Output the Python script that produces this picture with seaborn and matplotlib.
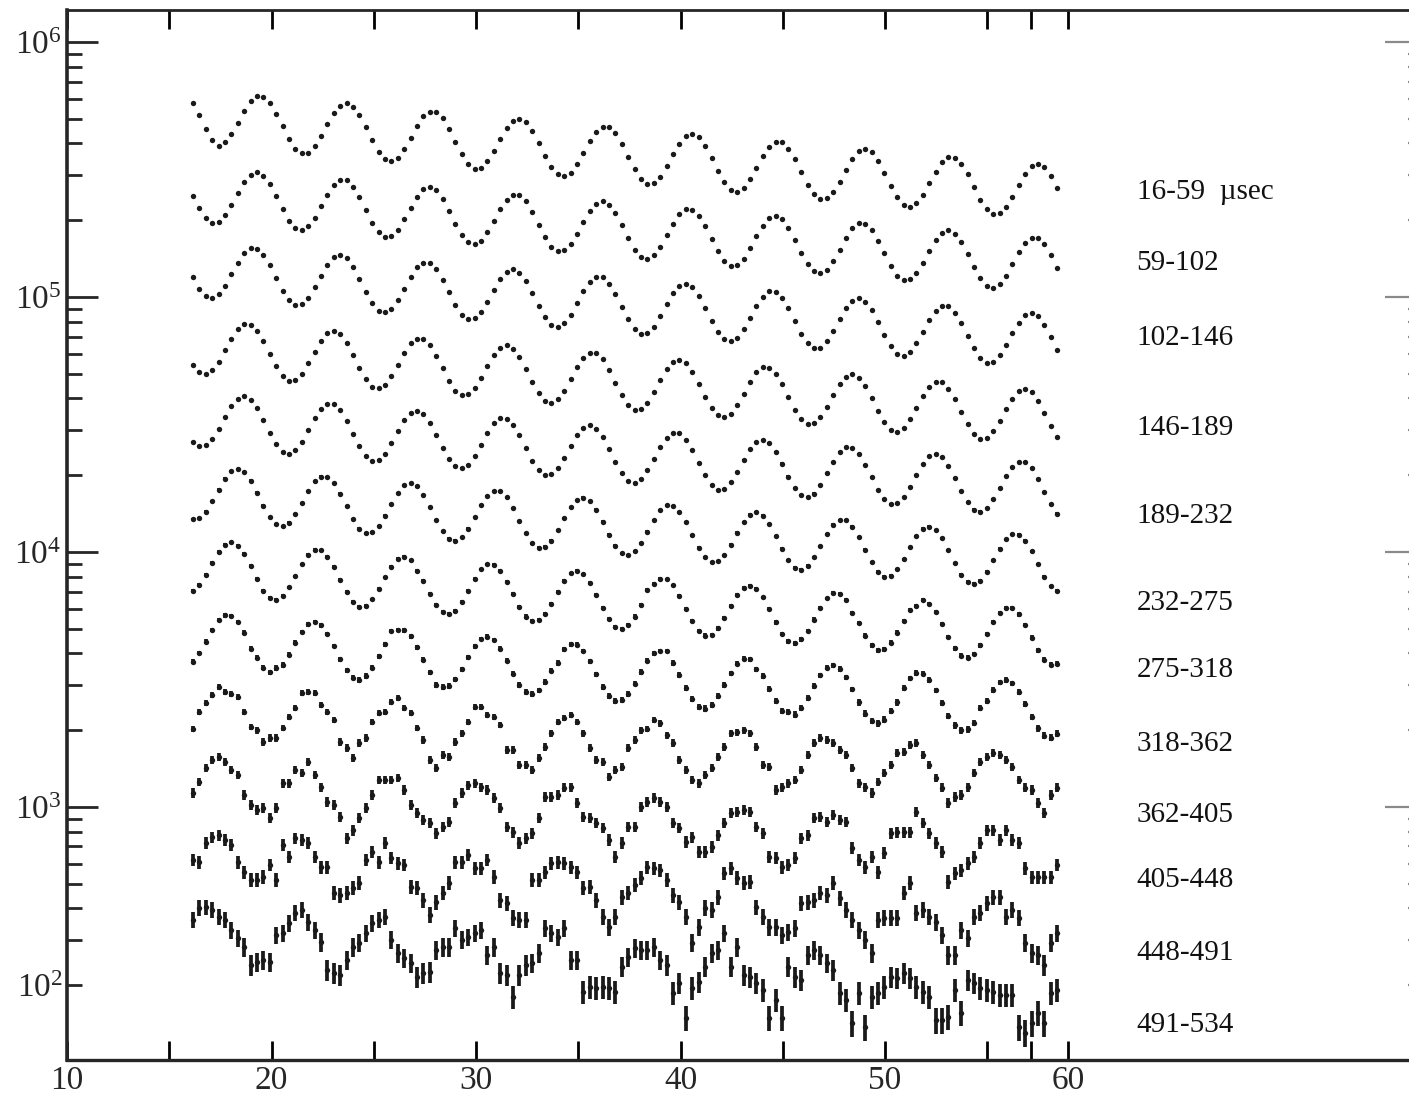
import numpy as np
import pandas as pd
import matplotlib
matplotlib.use('Agg')
import matplotlib.pyplot as plt
import matplotlib.transforms as mtransforms
from matplotlib.ticker import LogLocator, NullFormatter
import seaborn as sns

# time channels along the x axis
time = np.linspace(16.16, 58.42, 136)

# log10(counts) per channel for each delay window
log_16_59 = [
    5.762, 5.714, 5.658, 5.616, 5.591, 5.606, 5.639, 5.684, 5.730, 5.767, 5.787, 5.784, 5.760, 5.719,
    5.669, 5.620, 5.582, 5.563, 5.566, 5.591, 5.631, 5.678, 5.720, 5.750, 5.759, 5.745, 5.712,
    5.665, 5.614, 5.569, 5.540, 5.532, 5.547, 5.580, 5.625, 5.671, 5.708, 5.727, 5.725, 5.701, 5.660,
    5.609, 5.560, 5.522, 5.503, 5.507, 5.532, 5.572, 5.618, 5.661, 5.690, 5.699, 5.686, 5.652,
    5.605, 5.554, 5.510, 5.481, 5.473, 5.487, 5.521, 5.565, 5.611, 5.648, 5.668, 5.666, 5.642, 5.600,
    5.550, 5.501, 5.463, 5.444, 5.448, 5.472, 5.512, 5.559, 5.602, 5.631, 5.640, 5.626, 5.593,
    5.546, 5.495, 5.450, 5.421, 5.413, 5.428, 5.461, 5.506, 5.552, 5.589, 5.608, 5.606, 5.582, 5.541,
    5.490, 5.441, 5.404, 5.385, 5.388, 5.413, 5.453, 5.500, 5.542, 5.571, 5.581, 5.567, 5.533,
    5.486, 5.435, 5.391, 5.362, 5.354, 5.368, 5.402, 5.446, 5.492, 5.529, 5.549, 5.547, 5.523, 5.481,
    5.431, 5.382, 5.344, 5.325, 5.329, 5.353, 5.394, 5.440, 5.483, 5.512, 5.521, 5.508, 5.474,
    5.427]
log_59_102 = [
    5.398, 5.349, 5.311, 5.292, 5.296, 5.321, 5.361, 5.408, 5.450, 5.480, 5.489, 5.476, 5.442, 5.395,
    5.344, 5.300, 5.271, 5.263, 5.278, 5.311, 5.356, 5.402, 5.439, 5.459, 5.457, 5.433, 5.391,
    5.341, 5.292, 5.254, 5.236, 5.239, 5.264, 5.304, 5.351, 5.394, 5.423, 5.432, 5.419, 5.385, 5.338,
    5.287, 5.243, 5.214, 5.206, 5.221, 5.254, 5.299, 5.345, 5.382, 5.402, 5.400, 5.376, 5.335,
    5.284, 5.235, 5.198, 5.179, 5.183, 5.207, 5.248, 5.294, 5.337, 5.366, 5.376, 5.362, 5.329, 5.282,
    5.231, 5.186, 5.157, 5.150, 5.164, 5.198, 5.242, 5.288, 5.326, 5.345, 5.343, 5.319, 5.278,
    5.228, 5.179, 5.141, 5.122, 5.126, 5.151, 5.191, 5.238, 5.280, 5.310, 5.319, 5.305, 5.272, 5.225,
    5.174, 5.130, 5.101, 5.093, 5.107, 5.141, 5.186, 5.232, 5.269, 5.289, 5.287, 5.263, 5.221,
    5.171, 5.122, 5.084, 5.066, 5.069, 5.094, 5.134, 5.181, 5.224, 5.253, 5.262, 5.249, 5.215, 5.168,
    5.117, 5.073, 5.044, 5.036, 5.051, 5.084, 5.129, 5.175, 5.212, 5.232, 5.230, 5.206, 5.165,
    5.114]
log_102_146 = [
    5.077, 5.033, 5.004, 4.996, 5.011, 5.044, 5.089, 5.135, 5.172, 5.192, 5.190, 5.166, 5.125, 5.074,
    5.025, 4.988, 4.969, 4.973, 4.997, 5.038, 5.084, 5.127, 5.156, 5.166, 5.152, 5.119, 5.072,
    5.021, 4.976, 4.947, 4.940, 4.954, 4.988, 5.032, 5.078, 5.116, 5.135, 5.133, 5.109, 5.068, 5.018,
    4.969, 4.931, 4.912, 4.916, 4.941, 4.981, 5.028, 5.070, 5.100, 5.109, 5.095, 5.062, 5.015,
    4.964, 4.920, 4.891, 4.883, 4.897, 4.931, 4.976, 5.022, 5.059, 5.079, 5.077, 5.053, 5.011, 4.961,
    4.912, 4.874, 4.856, 4.859, 4.884, 4.924, 4.971, 5.014, 5.043, 5.052, 5.039, 5.005, 4.958,
    4.907, 4.863, 4.834, 4.826, 4.841, 4.874, 4.919, 4.965, 5.002, 5.022, 5.020, 4.996, 4.955, 4.904,
    4.855, 4.818, 4.799, 4.802, 4.827, 4.867, 4.914, 4.957, 4.986, 4.995, 4.982, 4.949, 4.902,
    4.851, 4.806, 4.777, 4.769, 4.784, 4.818, 4.862, 4.908, 4.945, 4.965, 4.963, 4.939, 4.898, 4.848,
    4.799, 4.761, 4.742, 4.746, 4.771, 4.811, 4.857, 4.900, 4.930, 4.939, 4.925, 4.892, 4.845,
    4.794]
log_146_189 = [
    4.735, 4.706, 4.698, 4.713, 4.746, 4.791, 4.837, 4.874, 4.894, 4.892, 4.868, 4.827, 4.776, 4.728,
    4.690, 4.671, 4.675, 4.699, 4.740, 4.786, 4.829, 4.858, 4.868, 4.854, 4.821, 4.774, 4.723,
    4.678, 4.649, 4.642, 4.656, 4.690, 4.734, 4.781, 4.818, 4.837, 4.835, 4.811, 4.770, 4.720, 4.671,
    4.633, 4.614, 4.618, 4.643, 4.683, 4.730, 4.772, 4.802, 4.811, 4.798, 4.764, 4.717, 4.666,
    4.622, 4.593, 4.585, 4.600, 4.633, 4.678, 4.724, 4.761, 4.781, 4.779, 4.755, 4.713, 4.663, 4.614,
    4.576, 4.558, 4.561, 4.586, 4.626, 4.673, 4.716, 4.745, 4.754, 4.741, 4.707, 4.660, 4.609,
    4.565, 4.536, 4.528, 4.543, 4.576, 4.621, 4.667, 4.704, 4.724, 4.722, 4.698, 4.657, 4.606, 4.557,
    4.520, 4.501, 4.505, 4.529, 4.570, 4.616, 4.659, 4.688, 4.698, 4.684, 4.651, 4.604, 4.553,
    4.508, 4.479, 4.472, 4.486, 4.520, 4.564, 4.610, 4.648, 4.667, 4.665, 4.641, 4.600, 4.550, 4.501,
    4.463, 4.444, 4.448, 4.473, 4.513, 4.560, 4.602, 4.632, 4.641, 4.627, 4.594, 4.547, 4.496,
    4.452]
log_189_232 = [
    4.433, 4.414, 4.418, 4.443, 4.483, 4.530, 4.572, 4.602, 4.611, 4.597, 4.564, 4.517, 4.466, 4.422,
    4.393, 4.385, 4.399, 4.433, 4.478, 4.524, 4.561, 4.581, 4.579, 4.555, 4.513, 4.463, 4.414,
    4.376, 4.358, 4.361, 4.386, 4.426, 4.473, 4.516, 4.545, 4.554, 4.541, 4.507, 4.460, 4.409, 4.365,
    4.336, 4.328, 4.343, 4.376, 4.421, 4.467, 4.504, 4.524, 4.522, 4.498, 4.457, 4.406, 4.357,
    4.320, 4.301, 4.304, 4.329, 4.369, 4.416, 4.459, 4.488, 4.497, 4.484, 4.451, 4.404, 4.353, 4.308,
    4.279, 4.271, 4.286, 4.320, 4.364, 4.410, 4.447, 4.467, 4.465, 4.441, 4.400, 4.350, 4.301,
    4.263, 4.244, 4.248, 4.273, 4.313, 4.359, 4.402, 4.432, 4.441, 4.427, 4.394, 4.347, 4.296, 4.252,
    4.223, 4.215, 4.229, 4.263, 4.308, 4.354, 4.391, 4.411, 4.408, 4.384, 4.343, 4.293, 4.244,
    4.206, 4.187, 4.191, 4.216, 4.256, 4.303, 4.346, 4.375, 4.384, 4.371, 4.337, 4.290, 4.239, 4.195,
    4.166, 4.158, 4.173, 4.206, 4.251, 4.297, 4.334, 4.354, 4.352, 4.328, 4.286, 4.236, 4.187,
    4.150]
log_232_275 = [
    4.130, 4.134, 4.158, 4.199, 4.245, 4.288, 4.317, 4.327, 4.313, 4.280, 4.233, 4.182, 4.137, 4.108,
    4.101, 4.115, 4.149, 4.193, 4.240, 4.277, 4.296, 4.294, 4.270, 4.229, 4.179, 4.130, 4.092,
    4.073, 4.077, 4.102, 4.142, 4.189, 4.231, 4.261, 4.270, 4.257, 4.223, 4.176, 4.125, 4.081, 4.052,
    4.044, 4.059, 4.092, 4.137, 4.183, 4.220, 4.240, 4.238, 4.214, 4.172, 4.122, 4.073, 4.035,
    4.017, 4.020, 4.045, 4.085, 4.132, 4.175, 4.204, 4.213, 4.200, 4.166, 4.119, 4.068, 4.024, 3.995,
    3.987, 4.002, 4.035, 4.080, 4.126, 4.163, 4.183, 4.181, 4.157, 4.116, 4.065, 4.016, 3.979,
    3.960, 3.964, 3.988, 4.029, 4.075, 4.118, 4.147, 4.157, 4.143, 4.110, 4.063, 4.012, 3.967, 3.938,
    3.931, 3.945, 3.979, 4.023, 4.069, 4.107, 4.126, 4.124, 4.100, 4.059, 4.009, 3.960, 3.922,
    3.903, 3.907, 3.932, 3.972, 4.019, 4.061, 4.091, 4.100, 4.086, 4.053, 4.006, 3.955, 3.911, 3.882,
    3.874, 3.888, 3.922, 3.967, 4.013, 4.050, 4.070, 4.068, 4.044, 4.002, 3.952, 3.903, 3.865,
    3.847]
log_275_318 = [
    3.846, 3.870, 3.911, 3.957, 4.000, 4.029, 4.039, 4.025, 3.992, 3.945, 3.894, 3.849, 3.820, 3.813,
    3.827, 3.861, 3.905, 3.951, 3.989, 4.008, 4.006, 3.982, 3.941, 3.891, 3.842, 3.804, 3.785,
    3.789, 3.814, 3.854, 3.901, 3.943, 3.973, 3.982, 3.968, 3.925, 3.888, 3.837, 3.793, 3.764, 3.756,
    3.770, 3.804, 3.849, 3.895, 3.932, 3.952, 3.950, 3.926, 3.884, 3.834, 3.785, 3.747, 3.729,
    3.732, 3.757, 3.797, 3.844, 3.887, 3.916, 3.925, 3.912, 3.878, 3.831, 3.780, 3.736, 3.707, 3.699,
    3.714, 3.747, 3.792, 3.850, 3.875, 3.895, 3.893, 3.869, 3.828, 3.777, 3.728, 3.691, 3.672,
    3.675, 3.700, 3.740, 3.787, 3.830, 3.859, 3.868, 3.855, 3.822, 3.775, 3.724, 3.679, 3.650, 3.642,
    3.657, 3.691, 3.735, 3.781, 3.818, 3.838, 3.836, 3.812, 3.760, 3.721, 3.672, 3.634, 3.615,
    3.619, 3.644, 3.684, 3.730, 3.773, 3.790, 3.812, 3.798, 3.765, 3.718, 3.667, 3.623, 3.594, 3.586,
    3.600, 3.634, 3.679, 3.725, 3.762, 3.782, 3.779, 3.755, 3.714, 3.664, 3.615, 3.577, 3.558,
    3.562]
log_318_362 = [
    3.570, 3.604, 3.648, 3.695, 3.732, 3.751, 3.749, 3.725, 3.684, 3.621, 3.585, 3.547, 3.528, 3.545,
    3.557, 3.597, 3.644, 3.686, 3.716, 3.725, 3.712, 3.678, 3.631, 3.580, 3.536, 3.507, 3.499,
    3.514, 3.547, 3.592, 3.638, 3.690, 3.695, 3.693, 3.669, 3.627, 3.577, 3.528, 3.478, 3.472, 3.475,
    3.500, 3.540, 3.587, 3.630, 3.659, 3.668, 3.655, 3.621, 3.574, 3.523, 3.479, 3.450, 3.442,
    3.457, 3.490, 3.535, 3.565, 3.618, 3.638, 3.636, 3.612, 3.571, 3.520, 3.471, 3.434, 3.415, 3.419,
    3.443, 3.484, 3.530, 3.573, 3.602, 3.612, 3.612, 3.565, 3.518, 3.467, 3.422, 3.393, 3.386,
    3.400, 3.434, 3.478, 3.524, 3.562, 3.581, 3.579, 3.540, 3.514, 3.464, 3.415, 3.377, 3.372, 3.362,
    3.387, 3.427, 3.474, 3.516, 3.546, 3.555, 3.541, 3.508, 3.461, 3.410, 3.366, 3.337, 3.329,
    3.343, 3.377, 3.410, 3.468, 3.505, 3.525, 3.523, 3.499, 3.457, 3.407, 3.358, 3.320, 3.302, 3.305,
    3.330, 3.388, 3.417, 3.460, 3.489, 3.498, 3.485, 3.451, 3.404, 3.353, 3.309, 3.280, 3.272,
    3.287]
log_362_405 = [
    3.306, 3.373, 3.408, 3.439, 3.471, 3.451, 3.443, 3.431, 3.373, 3.314, 3.302, 3.255, 3.271, 3.271,
    3.310, 3.353, 3.388, 3.447, 3.451, 3.447, 3.400, 3.373, 3.341, 3.255, 3.231, 3.192, 3.251, 3.271,
    3.333, 3.369, 3.373, 3.412, 3.427, 3.388, 3.369, 3.310, 3.263, 3.184, 3.153, 3.204, 3.196, 3.255,
    3.290, 3.333, 3.392, 3.392, 3.361, 3.353, 3.322, 3.224, 3.224, 3.165, 3.165, 3.145, 3.192, 3.235,
    3.290, 3.333, 3.349, 3.361, 3.333, 3.290, 3.231, 3.184,
    3.176, 3.118, 3.145, 3.157, 3.231, 3.263, 3.302, 3.306, 3.341, 3.329, 3.282, 3.251, 3.184, 3.145,
    3.106, 3.094, 3.125, 3.153, 3.196, 3.235, 3.290, 3.294, 3.302, 3.290, 3.235, 3.165, 3.157, 3.067,
    3.078, 3.094, 3.106, 3.145, 3.204, 3.251, 3.271, 3.263, 3.251, 3.224, 3.204, 3.153, 3.094, 3.078,
    3.055, 3.098, 3.133, 3.165, 3.212, 3.216, 3.243, 3.251, 3.204, 3.165, 3.114, 3.075, 3.016, 3.039,
    3.047, 3.078, 3.133, 3.176, 3.196, 3.212, 3.204, 3.184, 3.157, 3.106, 3.075, 3.067, 3.016, 2.976,
    3.047, 3.075]
log_405_448 = [
    3.055, 3.098, 3.153, 3.184, 3.196, 3.176, 3.145, 3.125, 3.047, 3.008, 2.988, 2.996, 2.957, 2.996,
    3.094, 3.094, 3.145, 3.133, 3.176, 3.125, 3.078, 3.020, 3.008, 2.961, 2.878, 2.910, 2.957, 2.996,
    3.047, 3.106, 3.106, 3.106, 3.114, 3.067, 3.008, 2.976, 2.949, 2.937, 2.898, 2.922, 2.941, 3.016,
    3.055, 3.086, 3.094, 3.078, 3.067, 3.035, 2.996, 2.922, 2.902, 2.859, 2.878, 2.898, 2.957, 3.039,
    3.039, 3.047, 3.075, 3.078, 3.016, 2.961, 2.957, 2.937,
    2.918, 2.871, 2.804, 2.859, 2.922, 2.922, 3.000, 3.020, 3.035, 3.020, 3.000, 2.937, 2.918, 2.863,
    2.882, 2.824, 2.824, 2.843, 2.890, 2.937, 2.976, 2.980, 2.988, 2.980, 2.922, 2.898, 2.804, 2.800,
    2.765, 2.773, 2.800, 2.878, 2.890, 2.957, 2.961, 2.941, 2.969, 2.949, 2.941, 2.839, 2.792, 2.765,
    2.804, 2.745, 2.820, 2.898, 2.902, 2.902, 2.902, 2.980, 2.937, 2.898, 2.859, 2.824, 2.706, 2.741,
    2.753, 2.780, 2.804, 2.859, 2.910, 2.910, 2.871, 2.910, 2.871, 2.859, 2.761, 2.725, 2.725, 2.725,
    2.725, 2.773]
log_448_491 = [
    2.792, 2.784, 2.859, 2.882, 2.890, 2.871, 2.851, 2.784, 2.745, 2.714, 2.714, 2.726, 2.773, 2.714,
    2.851, 2.804, 2.878, 2.871, 2.859, 2.804, 2.765, 2.765, 2.663, 2.655, 2.663, 2.682, 2.702, 2.792,
    2.824, 2.784, 2.859, 2.800, 2.780, 2.773, 2.686, 2.682, 2.635, 2.576, 2.627, 2.663, 2.702, 2.784,
    2.784, 2.812, 2.761, 2.761, 2.792, 2.726, 2.635, 2.623, 2.565, 2.557, 2.557, 2.714, 2.714, 2.745,
    2.780, 2.784, 2.780, 2.765, 2.745, 2.682, 2.686, 2.635,
    2.569, 2.529, 2.569, 2.647, 2.663, 2.694, 2.722, 2.765, 2.761, 2.753, 2.714, 2.655, 2.627, 2.569,
    2.467, 2.529, 2.604, 2.596, 2.647, 2.741, 2.761, 2.722, 2.702, 2.706, 2.608, 2.569, 2.529, 2.529,
    2.498, 2.510, 2.525, 2.623, 2.627, 2.635, 2.663, 2.655, 2.702, 2.643, 2.596, 2.557, 2.518, 2.478,
    2.427, 2.557, 2.565, 2.565, 2.565, 2.663, 2.702, 2.584, 2.596, 2.569, 2.549, 2.498, 2.420, 2.420,
    2.518, 2.486, 2.569, 2.584, 2.623, 2.647, 2.647, 2.569, 2.596, 2.565, 2.467, 2.427, 2.420, 2.380,
    2.467, 2.506]
log_491_534 = [
    2.557, 2.604, 2.608, 2.596, 2.569, 2.557, 2.518, 2.486, 2.451, 2.380, 2.392, 2.400, 2.392, 2.498,
    2.506, 2.545, 2.584, 2.596, 2.549, 2.518, 2.470, 2.361, 2.349, 2.341, 2.400, 2.451, 2.467, 2.506,
    2.545, 2.557, 2.569, 2.478, 2.427, 2.408, 2.388, 2.333, 2.349, 2.353, 2.439, 2.451, 2.451, 2.525,
    2.478, 2.490, 2.506, 2.518, 2.420, 2.451, 2.349, 2.341, 2.255, 2.341, 2.380, 2.388, 2.427, 2.525,
    2.506, 2.490, 2.525, 2.400, 2.400, 2.275, 2.294, 2.290,
    2.294, 2.290, 2.275, 2.373, 2.412, 2.447, 2.439, 2.439, 2.451, 2.400, 2.380, 2.271, 2.310, 2.173,
    2.290, 2.314, 2.373, 2.427, 2.439, 2.506, 2.373, 2.451, 2.341, 2.333, 2.310, 2.282, 2.173, 2.243,
    2.173, 2.373, 2.333, 2.322, 2.420, 2.439, 2.420, 2.388, 2.361, 2.271, 2.243, 2.153, 2.271, 2.137,
    2.255, 2.271, 2.294, 2.333, 2.329, 2.349, 2.329, 2.294, 2.275, 2.255, 2.165, 2.165, 2.177, 2.282,
    2.192, 2.322, 2.310, 2.290, 2.282, 2.275, 2.263, 2.263, 2.263, 2.137, 2.114, 2.153, 2.192, 2.153,
    2.271, 2.282]

windows = ['16-59  µsec', '59-102', '102-146', '146-189', '189-232', '232-275',
           '275-318', '318-362', '362-405', '405-448', '448-491', '491-534']
series = [log_16_59, log_59_102, log_102_146, log_146_189, log_189_232, log_232_275,
          log_275_318, log_318_362, log_362_405, log_405_448, log_448_491, log_491_534]
# where the window labels sit (log10 counts) on the right
label_log_y = [5.412, 5.133, 4.839, 4.486, 4.141, 3.800, 3.537, 3.247, 2.969, 2.714, 2.427, 2.145]
label_x = 62.3

frames = []
for name, vals in zip(windows, series):
    frames.append(pd.DataFrame({'time': time, 'counts': 10 ** np.array(vals), 'window': name}))
df = pd.concat(frames, ignore_index=True)
# bars drawn a bit wider than bare counting statistics, as on the scan
df['err'] = 1.4 * np.sqrt(df['counts'])

sns.set_style('ticks')
plt.rcParams['font.family'] = ['Liberation Serif', 'DejaVu Serif']
plt.rcParams['mathtext.fontset'] = 'custom'
plt.rcParams['mathtext.rm'] = 'Liberation Serif'
plt.rcParams['mathtext.it'] = 'Liberation Serif:italic'

ink = '#1a1a1a'
fig = plt.figure(figsize=(14.09, 10.99), dpi=100)
ax = fig.add_axes([67 / 1409, 39 / 1099, 1345 / 1409, 1050 / 1099])
ax.set_yscale('log')

sns.scatterplot(data=df, x='time', y='counts', color=ink, s=15, linewidth=0,
                ax=ax, legend=False, zorder=3)
ax.vlines(df['time'], df['counts'] - df['err'], df['counts'] + df['err'],
          colors=ink, linewidth=2.7, zorder=3)

ax.set_xlim(10, 75.77)
ax.set_ylim(101.8, 1.3354e6)
ax.set_xlabel('')
ax.set_ylabel('')

# x ticks (the scan puts "60" a little short of where it should be)
ax.set_xticks([10, 20, 30, 40, 50, 58.95])
ax.set_xticklabels(['10', '20', '30', '40', '50', '60'])
ax.set_xticks([15, 25, 35, 45, 55, 57.14], minor=True)
ax.tick_params(axis='x', which='both', direction='in', length=14, width=2,
               top=True, bottom=True, labelsize=24, pad=4, color='black')

# y ticks
ax.set_yticks([1e3, 1e4, 1e5, 1e6])
ax.set_yticklabels([r'$10^3$', r'$10^4$', r'$10^5$', r'$10^6$'])
ax.yaxis.set_minor_locator(LogLocator(base=10, subs=np.arange(2, 10), numticks=20))
ax.yaxis.set_minor_formatter(NullFormatter())
ax.tick_params(axis='y', which='major', direction='in', length=22, width=2,
               left=True, right=False, labelsize=24, pad=4)
ax.tick_params(axis='y', which='minor', direction='in', length=11, width=2,
               left=True, right=False)
trans = mtransforms.blended_transform_factory(ax.transAxes, ax.transData)
ax.text(-0.003, 200, r'$10^2$', transform=trans, ha='right', va='center_baseline', fontsize=24)

ax.spines['left'].set_linewidth(2.6)
ax.spines['bottom'].set_linewidth(2.4)
ax.spines['top'].set_linewidth(2.0)
ax.spines['right'].set_visible(False)

# faint ticks along the right edge
ax_r = ax.twinx()
ax_r.set_yscale('log')
ax_r.set_ylim(ax.get_ylim())
ax_r.set_yticks([1e3, 1e4, 1e5, 1e6])
ax_r.set_yticklabels([])
ax_r.yaxis.set_minor_locator(LogLocator(base=10, subs=np.arange(2, 10), numticks=20))
ax_r.yaxis.set_minor_formatter(NullFormatter())
ax_r.tick_params(axis='y', which='major', direction='in', length=19.5, width=1.6, colors='#8a8a8a')
ax_r.tick_params(axis='y', which='minor', direction='in', length=3, width=1.6, colors='#8a8a8a')
for s in ax_r.spines.values():
    s.set_visible(False)

for name, ly in zip(windows, label_log_y):
    ax.text(label_x, 10 ** ly, name, fontsize=21, ha='left', va='center', color='#111111')

fig.savefig('out.png', dpi=100)
